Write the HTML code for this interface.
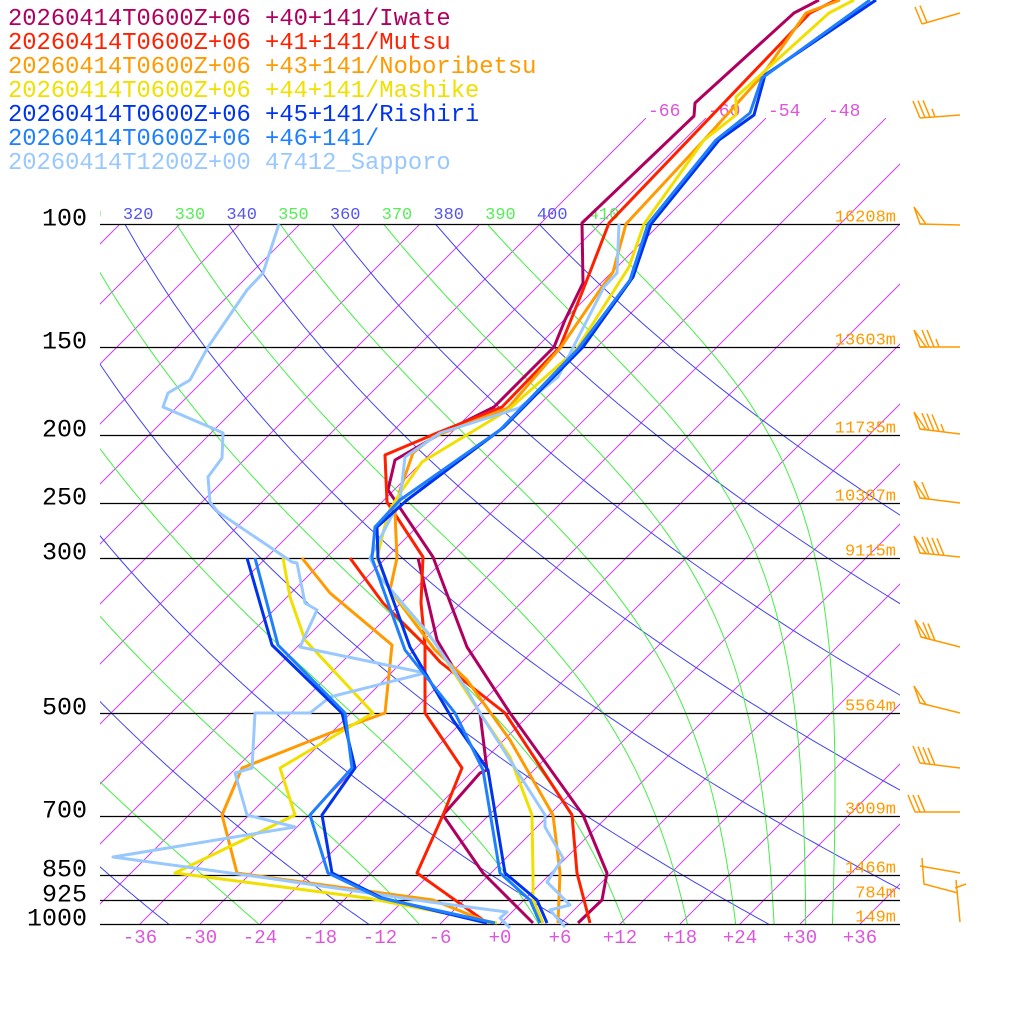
<!DOCTYPE html>
<html><head><meta charset="utf-8"><style>
html,body{margin:0;padding:0;background:#fff;width:1024px;height:1024px;overflow:hidden}
svg{display:block}
text{font-family:"Liberation Mono",monospace}
</style></head><body>
<svg id="s" width="1024" height="1024" viewBox="0 0 1024 1024" xmlns="http://www.w3.org/2000/svg">
<defs>
<clipPath id="cl"><rect x="100" y="224" width="800" height="700"/></clipPath>
<clipPath id="cu"><rect x="100" y="118" width="800" height="806"/></clipPath>
<clipPath id="ct"><rect x="100" y="190" width="800" height="40"/></clipPath>
</defs>
<g id="grid"></g>
<g id="data" fill="none" stroke-width="3" stroke-linejoin="round"></g>
<g id="barbs" stroke="#ff9900" stroke-width="1.5" fill="none"></g>
<g font-size="23.8">
<text x="8" y="25" fill="#b0005f">20260414T0600Z+06 +40+141/Iwate</text>
<text x="8" y="49" fill="#ff2000">20260414T0600Z+06 +41+141/Mutsu</text>
<text x="8" y="73" fill="#ff9a00">20260414T0600Z+06 +43+141/Noboribetsu</text>
<text x="8" y="97" fill="#f0e000">20260414T0600Z+06 +44+141/Mashike</text>
<text x="8" y="121" fill="#0033ee">20260414T0600Z+06 +45+141/Rishiri</text>
<text x="8" y="145" fill="#1e7fff">20260414T0600Z+06 +46+141/</text>
<text x="8" y="169" fill="#99c8ff">20260414T1200Z+00 47412_Sapporo</text>
</g>
</svg>
<script>
(function(){
var NS="http://www.w3.org/2000/svg";
function el(parent,tag,attrs,txt){var e=document.createElementNS(NS,tag);for(var k in attrs)e.setAttribute(k,attrs[k]);if(txt!==undefined)e.textContent=txt;parent.appendChild(e);return e;}
function Y(p){return 924-304*Math.log(1000/p);}
function X(T,y){return 500+10*T+(924-y);}
var g=document.getElementById('grid');
var gi=el(g,'g',{stroke:'#d040f0','stroke-width':'1'});
for(var T=-150;T<=60;T+=6){
  var top=T>=-66?118:224;
  el(gi,'line',{x1:X(T,top),y1:top,x2:X(T,924),y2:924,'clip-path':T>=-66?'url(#cu)':'url(#cl)'});
}
[-66,-60,-54,-48].forEach(function(T){el(g,'text',{x:X(T,118)+2,y:116,fill:'#dd55dd','font-size':'18'},String(T));});
// dry adiabats (blue)
for(var th=200;th<=400;th+=20){
  var pts=[];
  for(var p=100;p<=1000;p+=10){var y=Y(p);var t=th*Math.pow(p/1000,0.286)-273.15;pts.push(X(t,y).toFixed(1)+','+y.toFixed(1));}
  el(g,'polyline',{points:pts.join(' '),fill:'none',stroke:'#4444ee','stroke-width':'1','clip-path':'url(#cl)'});
  if(th>=320){var xt=th*Math.pow(0.1,0.286)-273.15;el(g,'text',{x:X(xt,224)-2,y:219,fill:'#5555ee','font-size':'17','clip-path':'url(#ct)'},String(th));}
}
// moist adiabats (green), start at 100 hPa with theta=label, integrate down
function es(T){return 6.112*Math.exp(17.67*T/(T+243.5));}
for(var te=210;te<=410;te+=20){
  var T=te*Math.pow(0.1,0.286),p=100,pts=[];
  var Rd=287,cp=1004,Lv=2.5e6,eps=0.622;
  while(p<=1000.01){
    var y=Y(p);pts.push(X(T-273.15,y).toFixed(1)+','+y.toFixed(1));
    var dp=2;
    var e=es(T-273.15);var rs=eps*e/(p-e);
    var dTdp=(Rd*T+Lv*rs)/(p*(cp+Lv*Lv*rs*eps/(Rd*T*T)));
    T+=dTdp*dp;p+=dp;
  }
  el(g,'polyline',{points:pts.join(' '),fill:'none',stroke:'#44ee44','stroke-width':'1','clip-path':'url(#cl)'});
  if(te>=310){var xt=te*Math.pow(0.1,0.286)-273.15;el(g,'text',{x:X(xt,224)-2,y:219,fill:'#55ee55','font-size':'17','clip-path':'url(#ct)'},String(te));}
}
var lev=[[100,'16208m'],[150,'13603m'],[200,'11735m'],[250,'10307m'],[300,'9115m'],[500,'5564m'],[700,'3009m'],[850,'1466m'],[925,'784m'],[1000,'149m']];
lev.forEach(function(l){var y=Math.round(Y(l[0]))+0.5;
  el(g,'line',{x1:100,y1:y,x2:900,y2:y,stroke:'#000','stroke-width':'1.3'});
  el(g,'text',{x:87,y:y+1,'text-anchor':'end','font-size':'25',fill:'#000','font-family':'DejaVu Sans, sans-serif'},String(l[0]));
  el(g,'text',{x:896,y:y-3,'text-anchor':'end','font-size':'17',fill:'#ff9a00'},l[1]);
});
for(var T=-36;T<=36;T+=6){el(g,'text',{x:500+10*T,y:943,'text-anchor':'middle','font-size':'19',fill:'#dd55dd'},(T>=0?'+':'')+T);}
var d=document.getElementById('data');
var S=[
['#99c8ff',"619,224 617,273 604,287 558,377 519,408 440,433 405,457 400,500 370,558 380,577 428,633 467,690 480,713 545,815 545,827 563,858 547,882 570,905 550,910 565,927"],
['#99c8ff',"279,224 263,273 247,290 208,347 190,380 168,393 163,407 212,428 223,433 222,458 208,477 210,502 218,512 292,562 297,563 305,603 317,610 300,647 425,673 330,697 310,713 255,713 252,768 235,773 247,815 295,827 113,857 267,878 430,902 507,912 500,918 510,928"],
['#b0005f',"819,0 794,13 695,103 694,116 582,223 583,283 565,320 554,347 494,407 440,434 395,460 388,490 433,557 467,647 510,713 583,815 607,873 602,900 578,923"],
['#b0005f',"418,558 437,640 480,713 487,770 480,773 443,815 483,873 533,923"],
['#ff2000',"836,0 810,13 609,223 583,290 560,347 502,407 437,433 385,455 387,502 423,557 421,603 425,645 425,713 462,768 443,815 417,873 483,920"],
['#ff2000',"350,558 383,603 425,645 440,662 505,713 572,815 577,873 590,923"],
['#ff9a00',"840,0 806,13 761,77 704,140 626,224 613,272 602,287 561,347 508,408 433,437 413,453 400,490 395,513 397,558 390,590 435,650 467,680 510,740 553,815 560,873 558,923"],
['#ff9a00',"302,558 330,593 392,645 385,713 330,733 242,768 222,815 237,873 433,900 490,923"],
['#f0e000',"854,0 829,13 736,97 736,115 704,140 644,224 629,267 576,350 508,410 422,462 400,493 388,513 377,558 390,590 433,640 480,713 510,757 532,815 533,873 533,900 543,923"],
['#f0e000',"283,558 290,597 305,640 373,713 280,768 295,815 175,873 367,898 497,923"],
['#0033ee',"876,0 765,75 754,115 719,140 651,224 633,277 583,347 504,427 407,500 377,527 378,558 410,647 453,720 488,770 505,873 537,900 547,923"],
['#0033ee',"247,558 272,645 342,713 355,768 322,815 332,873 382,898 487,923"],
['#1e7fff',"870,0 762,78 750,113 716,140 648,224 630,280 578,349 500,430 400,500 375,527 372,558 405,650 455,713 483,770 500,873 530,900 540,923"],
['#1e7fff',"255,558 278,645 345,713 352,768 310,815 328,873 380,898 495,923"]
];
var order=[2,3,4,5,6,7,8,9,0,1,10,11,12,13];
order.forEach(function(i){el(d,'polyline',{points:S[i][1],stroke:S[i][0]});});
var b=document.getElementById('barbs');
function barb(yl,yr,n,half,pen,xl){
  xl=xl||920;
  el(b,'line',{x1:xl,y1:yl,x2:960,y2:yr});
  var x=xl,sl=(yr-yl)/(960-xl);
  for(var i=0;i<pen;i++){var yy=yl+sl*(x-xl);el(b,'polygon',{points:x+','+yy+' '+(x-6)+','+(yy-17)+' '+(x+6)+','+(yy+sl*6)});x+=9;}
  for(var i=0;i<n;i++){var yy=yl+sl*(x-xl);el(b,'line',{x1:x,y1:yy,x2:x-7,y2:yy-17});x+=5;}
  if(half){var yy=yl+sl*(x-xl);el(b,'line',{x1:x,y1:yy,x2:x-3,y2:yy-8});}
}
barb(24,13,2,0,0,922);
barb(118,115,3,1,0);
barb(224,225,0,0,1);
barb(347,347,2,1,1);
barb(429,434,3,1,1);
barb(498,503,1,0,1);
barb(553,557,4,0,1);
barb(637,647,2,0,1,921);
barb(703,713,0,0,1);
barb(763,768,4,0,0);
barb(812,812,3,0,0,915);
el(b,'polyline',{points:"922,858 924,884 958,893"});
el(b,'line',{x1:920,y1:866,x2:960,y2:873});
el(b,'line',{x1:955,y1:888,x2:966,y2:884});
el(b,'line',{x1:956,y1:880,x2:960,y2:922});
})();
</script>
</body></html>
